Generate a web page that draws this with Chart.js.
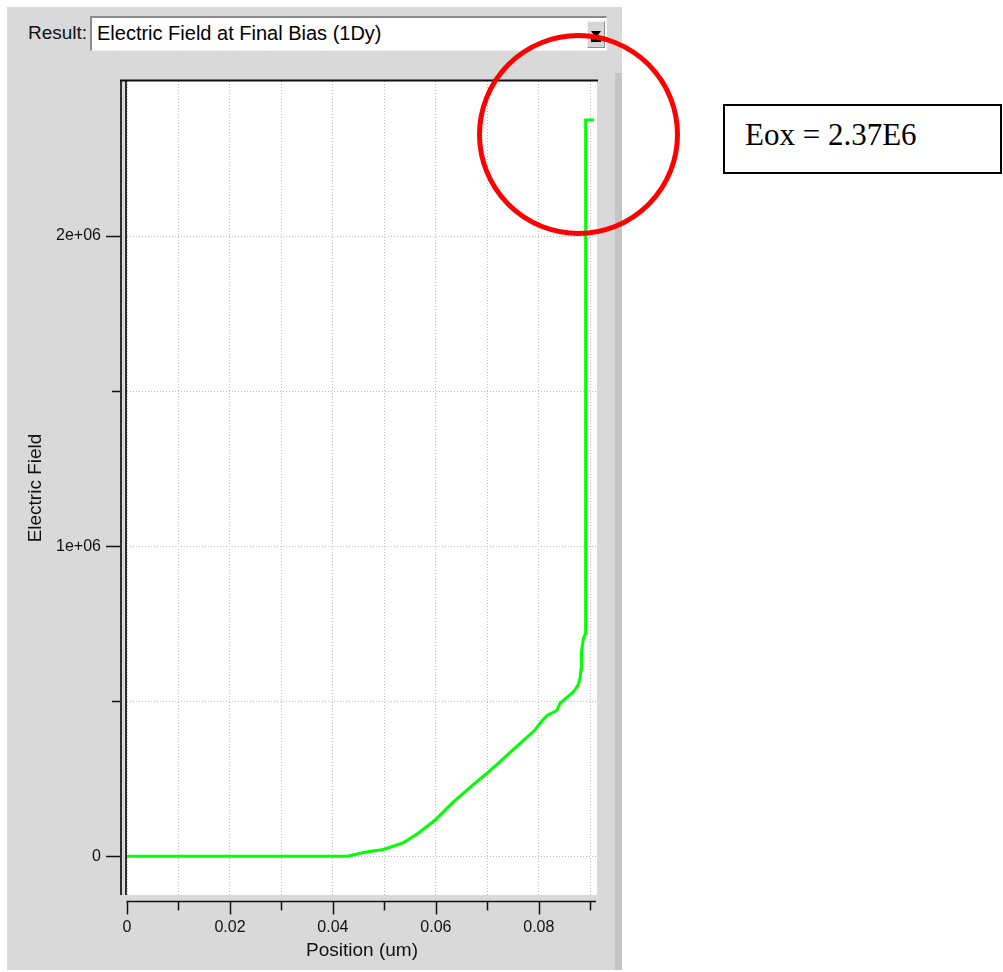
<!DOCTYPE html>
<html>
<head>
<meta charset="utf-8">
<script src="https://cdn.jsdelivr.net/npm/chart.js@4.4.0/dist/chart.umd.min.js"></script>
<style>
  html, body { margin: 0; padding: 0; background: #fff; }
  body { width: 1003px; height: 972px; position: relative; overflow: hidden; font-family: "Liberation Sans", Arial, sans-serif; }
  #panel { position: absolute; left: 7px; top: 7px; width: 615px; height: 963px; background: #d9d9d9; }
  #scroll { position: absolute; left: 615px; top: 73px; width: 7px; height: 897px; background: #c4c4c4; }
  #resultLabel { position: absolute; left: 28px; top: 22px; font-size: 19px; line-height: 22px; color: #111; }
  #combo { position: absolute; left: 90px; top: 16px; width: 517px; height: 35px; box-sizing: border-box; background: #fff;
           border-top: 2px solid #8c8c8c; border-left: 2px solid #8c8c8c; border-right: 1px solid #f2f2f2; border-bottom: 1px solid #f2f2f2; }
  #comboText { position: absolute; left: 5px; top: 4px; font-size: 20px; line-height: 23px; color: #000; white-space: nowrap; }
  #comboBtn { position: absolute; right: 1px; top: 3px; width: 18px; height: 27px; box-sizing: border-box; background: #d6d6d6;
              border-top: 1px solid #f4f4f4; border-left: 1px solid #f4f4f4; border-right: 1px solid #8c8c8c; border-bottom: 1px solid #8c8c8c; }
  #comboBtn .tri { position: absolute; left: 3px; top: 9px; width: 0; height: 0; border-left: 5px solid transparent; border-right: 5px solid transparent; border-top: 7px solid #000; }
  #comboBtn .bar { position: absolute; left: 3px; top: 17px; width: 10px; height: 3px; background: #000; }
  #chart { position: absolute; left: 0; top: 0; }
  #ring { position: absolute; left: 477px; top: 33px; width: 203px; height: 203px; box-sizing: border-box; border: 5px solid #ff0000; border-radius: 50%; }
  #eox { position: absolute; left: 723px; top: 104px; width: 279px; height: 70px; box-sizing: border-box; border: 2px solid #000; background: #fff; }
  #eox span { position: absolute; left: 20px; top: 11px; font-family: "Liberation Serif", "Times New Roman", serif; font-size: 31px; line-height: 36px; color: #000; white-space: nowrap; }
</style>
</head>
<body>
<div id="panel"></div>
<div id="scroll"></div>
<div id="resultLabel">Result:</div>
<div id="combo">
  <div id="comboText">Electric Field at Final Bias (1Dy)</div>
  <div id="comboBtn"><div class="tri"></div><div class="bar"></div></div>
</div>
<canvas id="chart" width="1003" height="972"></canvas>
<div id="ring"></div>
<div id="eox"><span>Eox = 2.37E6</span></div>

<script>
// position along the cut (um) and electric field
const positionUm = [0, 0.010, 0.020, 0.030, 0.040, 0.0429, 0.0459, 0.0498, 0.0536, 0.0567, 0.0598,
                    0.0634, 0.0676, 0.0698, 0.0731, 0.0763, 0.0792, 0.0802, 0.0816, 0.0835, 0.0841,
                    0.0866, 0.0876, 0.0880, 0.0882, 0.0883, 0.0887, 0.0891, 0.0891, 0.0907];
const electricField = [0, 0, 0, 0, 0, 0, 12000, 22000, 43000, 76000, 116000,
                       175000, 236000, 266000, 315000, 363000, 406000, 428000, 454000, 470000, 493000,
                       528000, 551000, 573000, 605000, 663000, 705000, 718000, 2374000, 2374000];

const xTicks = [0, 0.01, 0.02, 0.03, 0.04, 0.05, 0.06, 0.07, 0.08, 0.09];
const xTickLabels = ["0", "", "0.02", "", "0.04", "", "0.06", "", "0.08", ""];
const yTicks = [0, 500000, 1000000, 1500000, 2000000];
const yTickLabels = ["0", "", "1e+06", "", "2e+06"];

const ink = "#111";

// white plot box, then the detached axes the way the old plotting tool draws them
const axesPlugin = {
    id: "axes",
    beforeDraw(chart) {
        const { ctx, chartArea: a } = chart;
        ctx.save();
        ctx.fillStyle = "#fff";
        ctx.fillRect(a.left, a.top, a.right - a.left, a.bottom - a.top);
        ctx.restore();
    },
    afterDraw(chart) {
        const { ctx, chartArea: a, scales } = chart;
        const seg = (x1, y1, x2, y2) => { ctx.beginPath(); ctx.moveTo(x1, y1); ctx.lineTo(x2, y2); ctx.stroke(); };
        ctx.save();
        ctx.strokeStyle = ink;
        ctx.lineWidth = 2;
        seg(a.left - 7, a.top - 0.5, a.right + 1, a.top - 0.5);
        ctx.lineWidth = 1.7;
        seg(a.left - 6, a.top - 1, a.left - 6, a.bottom);
        seg(a.left - 1, a.top - 1, a.left - 1, a.bottom);
        ctx.lineWidth = 1.5;
        yTicks.forEach((v, i) => {
            const py = Math.round(scales.y.getPixelForValue(v)) + 0.5;
            const len = yTickLabels[i] ? 14 : 8;
            seg(a.left - 7 - len, py, a.left - 7, py);
        });
        const ay = a.bottom + 6.5;
        seg(a.left - 0.5, ay, a.right - 1, ay);
        xTicks.forEach((v, i) => {
            const px = Math.round(scales.x.getPixelForValue(v)) + 0.5;
            const len = xTickLabels[i] ? 13 : 9;
            seg(px, ay, px, ay + len);
        });
        ctx.restore();
    }
};

Chart.defaults.font.family = "'Liberation Sans', Arial, sans-serif";
Chart.defaults.color = ink;

const gridStyle = { color: "#bdbdbd", lineWidth: 1, drawTicks: false };
const gridBorder = { display: false, dash: [1, 2] };

new Chart(document.getElementById("chart"), {
    type: "line",
    data: {
        datasets: [{
            data: positionUm.map((x, i) => ({ x: x, y: electricField[i] })),
            borderColor: "#00ff00",
            borderWidth: 3,
            pointRadius: 0,
            fill: false,
            tension: 0
        }]
    },
    options: {
        responsive: false,
        animation: false,
        events: [],
        layout: { padding: { left: 0, top: 81, right: 406, bottom: 0 } },
        plugins: { legend: { display: false }, tooltip: { enabled: false } },
        scales: {
            x: {
                type: "linear",
                min: 0,
                max: 0.0913,
                afterBuildTicks: s => { s.ticks = xTicks.map(v => ({ value: v })); },
                afterFit: s => { s.height = 77; },
                ticks: { callback: (v, i) => xTickLabels[i], autoSkip: false, maxRotation: 0, padding: 23, font: { size: 16 } },
                grid: gridStyle,
                border: gridBorder,
                title: { display: true, text: "Position (um)", font: { size: 19 }, padding: { top: 0, bottom: 10 } }
            },
            y: {
                type: "linear",
                min: -125000,
                max: 2500000,
                afterBuildTicks: s => { s.ticks = yTicks.map(v => ({ value: v })); },
                afterFit: s => { s.width = 127; },
                ticks: { callback: (v, i) => yTickLabels[i], padding: 26, font: { size: 16 } },
                grid: gridStyle,
                border: gridBorder,
                title: { display: true, text: "Electric Field", font: { size: 19 }, padding: { top: 24, bottom: 0 } }
            }
        }
    },
    plugins: [axesPlugin]
});
</script>
</body>
</html>
